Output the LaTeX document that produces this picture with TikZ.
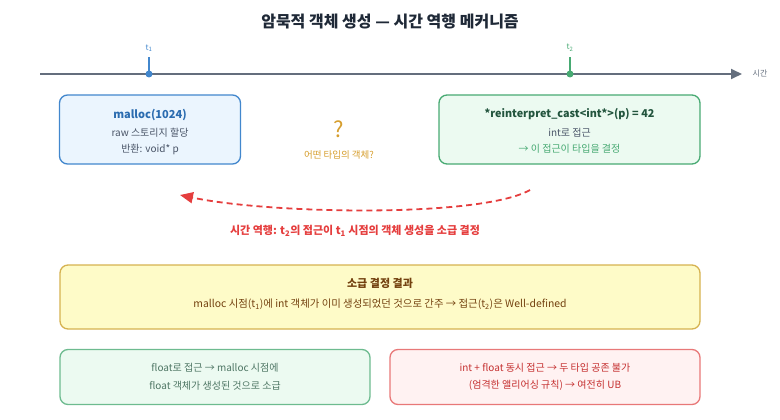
\documentclass[tikz,border=0pt]{standalone}
\usepackage{fontspec}
\setmainfont{Noto Sans CJK KR}
\usetikzlibrary{arrows.meta, positioning}
\definecolor{titleink}{RGB}{31, 41, 55}
\definecolor{axisgray}{RGB}{100, 110, 125}
\definecolor{mblue}{RGB}{66, 135, 205}
\definecolor{mbluefill}{RGB}{235, 245, 254}
\definecolor{mbluetext}{RGB}{43, 108, 176}
\definecolor{agreen}{RGB}{72, 170, 115}
\definecolor{agreenfill}{RGB}{236, 250, 241}
\definecolor{agreentext}{RGB}{34, 84, 61}
\definecolor{qgold}{RGB}{214, 158, 46}
\definecolor{revred}{RGB}{229, 62, 62}
\definecolor{resfill}{RGB}{254, 251, 200}
\definecolor{resdraw}{RGB}{214, 178, 80}
\definecolor{restext}{RGB}{116, 66, 16}
\definecolor{ubfill}{RGB}{255, 242, 242}
\definecolor{ubdraw}{RGB}{232, 120, 120}
\definecolor{ubtext}{RGB}{197, 48, 48}
\definecolor{bodygray}{RGB}{74, 85, 104}

\begin{document}
\begin{tikzpicture}[x=1pt, y=-1pt, font=\fontsize{10}{12}\selectfont]
    \tikzstyle{box} = [rectangle, rounded corners=8pt, line width=1.3pt, inner sep=0pt]
    \tikzstyle{stepline} = [line width=1.5pt]
    \tikzstyle{dot} = [circle, inner sep=0pt, minimum size=7pt]
    \tikzstyle{tlabel} = [font=\fontsize{8}{9}\selectfont]
    \tikzstyle{arrow} = [line width=1.8pt, -{Triangle[length=11pt, width=10pt]}]

    \useasboundingbox (0,0) rectangle (780,420);

    \node (title) at (390,22) [font=\fontsize{16}{19}\selectfont\bfseries, text=titleink] {암묵적 객체 생성 — 시간 역행 메커니즘};

    % timeline
    \coordinate (tstart) at (40,74);
    \coordinate (tend) at (742,74);
    \draw [arrow, axisgray] (tstart) -- (tend);
    \node (tname) at (760,74) [tlabel, text=axisgray] {시간};

    \node (d1) at (149,74) [dot, fill=mblue] {};
    \node (t1) at (149,48) [tlabel, text=mblue] {t\textsubscript{1}};
    \draw [stepline, mblue] (d1.center) -- (149,57);
    \node (d2) at (570,74) [dot, fill=agreen] {};
    \node (t2) at (570,48) [tlabel, text=agreen] {t\textsubscript{2}};
    \draw [stepline, agreen] (d2.center) -- (570,57);

    % boxes
    \node (mbox) at (150,129.5) [box, draw=mblue, fill=mbluefill, minimum width=181pt, minimum height=69pt] {};
    \node (mhead) at (150,115) [font=\fontsize{11}{13}\selectfont\bfseries, text=mbluetext] {malloc(1024)};
    \node (mraw) at (150,132.5) [text=bodygray] {raw 스토리지 할당};
    \node (mret) at (150,149.5) [text=bodygray] {반환: void* p};

    \node (qmark) at (339,129) [font=\fontsize{22}{24}\selectfont, text=qgold] {?};
    \node (qtext) at (339,155) [font=\fontsize{9.5}{11}\selectfont, text=qgold] {어떤 타입의 객체?};

    \node (abox) at (569.5,129.5) [box, draw=agreen, fill=agreenfill, minimum width=261pt, minimum height=69pt] {};
    \node (ahead) at (569.5,114.5) [font=\fontsize{10.8}{13}\selectfont\bfseries, text=agreentext] {*reinterpret\_cast<int*>(p) = 42};
    \node (aint) at (569.5,132.5) [text=bodygray] {int로 접근};
    \node (anote) at (569.5,148.5) [text=agreen] {→ 이 접근이 타입을 결정};

    % backward arrow
    \coordinate (revS) at (530,190);
    \coordinate (revE) at (180,195);
    \draw [revred, line width=1.8pt, dash pattern=on 6pt off 4pt, -{Triangle[length=13pt, width=11pt]}] (revS) .. controls (480,218) and (270,214) .. (revE);
    \node (revlbl) at (355,231) [font=\fontsize{11}{13}\selectfont\bfseries, text=revred] {시간 역행: t\textsubscript{2}의 접근이 t\textsubscript{1} 시점의 객체 생성을 소급 결정};

    \node (rbox) at (380,297) [box, draw=resdraw, fill=resfill, minimum width=640pt, minimum height=64pt] {};
    \node (rhead) at (380,283) [font=\fontsize{11}{13}\selectfont\bfseries, text=restext] {소급 결정 결과};
    \node (rtext) at (380,304) [font=\fontsize{10.4}{12}\selectfont, text=restext] {malloc 시점(t\textsubscript{1})에 int 객체가 이미 생성되었던 것으로 간주 → 접근(t\textsubscript{2})은 Well-defined};

    \node (fbox) at (215,377) [box, draw=agreen!80, fill=agreenfill, minimum width=310pt, minimum height=55pt] {};
    \node (fline1) at (215,368) [text=agreentext!80] {float로 접근 → malloc 시점에};
    \node (fline2) at (215,385.5) [text=agreentext!80] {float 객체가 생성된 것으로 소급};

    \node (ubox) at (545,377) [box, draw=ubdraw, fill=ubfill, minimum width=310pt, minimum height=55pt] {};
    \node (uline1) at (545,368) [text=ubtext] {int + float 동시 접근 → 두 타입 공존 불가};
    \node (uline2) at (545,385.5) [text=ubtext] {(엄격한 앨리어싱 규칙) → 여전히 UB};
\end{tikzpicture}
\end{document}
